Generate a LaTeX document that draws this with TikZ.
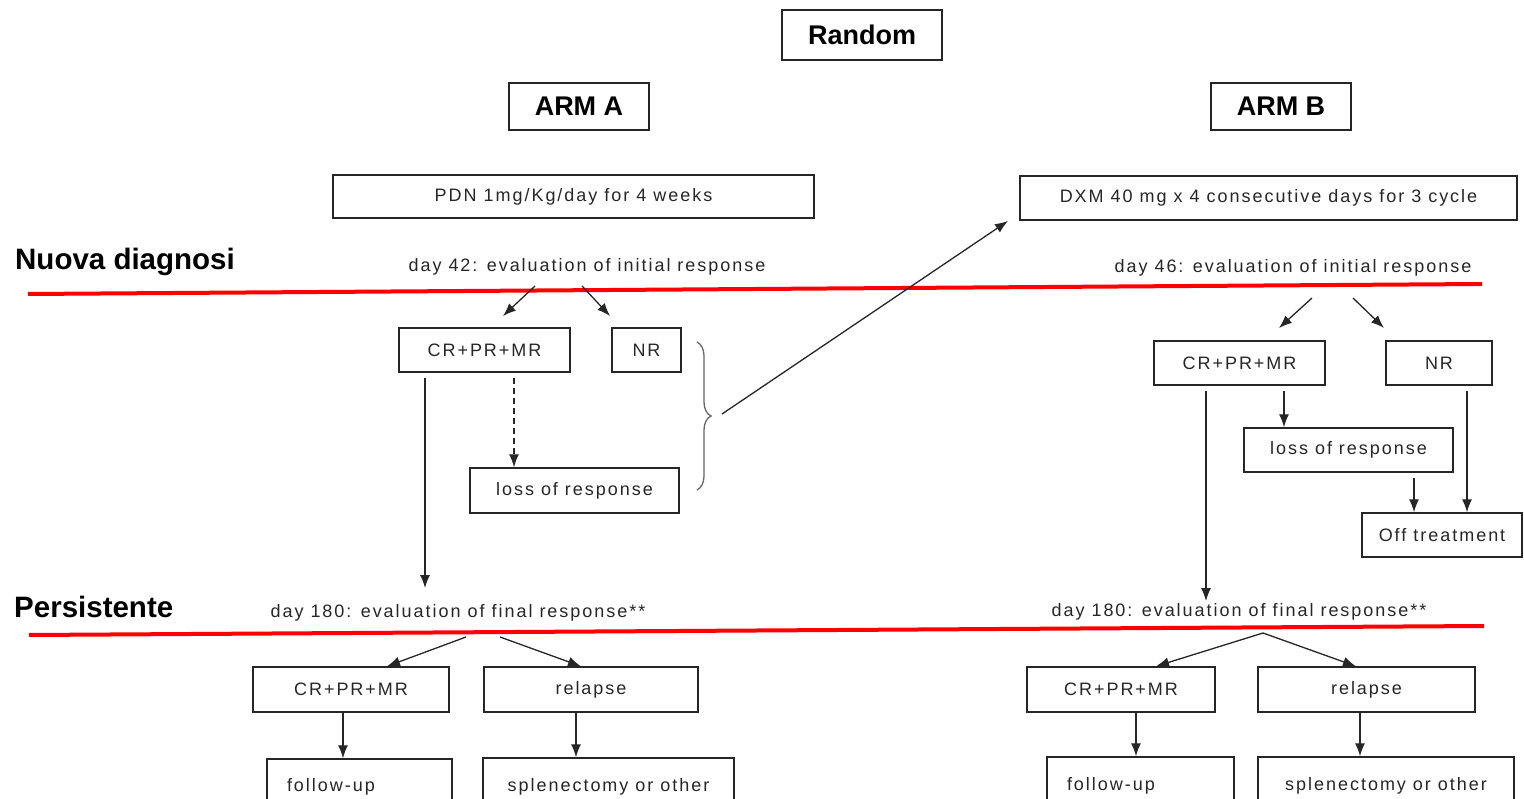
\documentclass[tikz,border=0pt]{standalone}
\usepackage{fontspec}
\setmainfont{Liberation Sans}
\newfontfamily\boxfont[LetterSpace=11]{Liberation Sans}
\usetikzlibrary{arrows.meta,decorations.pathreplacing,calc}
\begin{document}
\begin{tikzpicture}[x=1pt,y=-1pt,
 box/.style={draw=black!85, line width=1.4pt, inner sep=0pt, font=\boxfont\fontsize{18}{20}\selectfont, text=black!85},
 hbox/.style={draw=black!85, line width=1.6pt, inner sep=0pt, font=\bfseries\fontsize{27}{30}\selectfont},
 lbl/.style={inner sep=0pt, font=\boxfont\fontsize{18}{20}\selectfont, text=black!85},
 side/.style={inner sep=0pt, font=\bfseries\fontsize{29.5}{31}\selectfont, anchor=west},
 arr/.style={-{Latex[length=13pt,width=10pt]}, line width=1.3pt, draw=black!85},
 redline/.style={draw=red, line width=4pt}]
\useasboundingbox (0,0) rectangle (1524,799);
\clip (0,0) rectangle (1524,799);
% headers
\node[hbox, minimum width=160pt, minimum height=50pt] (random) at (862,35) {Random};
\node[hbox, minimum width=140pt, minimum height=47pt] (arma) at (579,106.5) {ARM A};
\node[hbox, minimum width=140pt, minimum height=47pt] (armb) at (1281,106.5) {ARM B};
% treatments
\node[box, minimum width=481pt, minimum height=43pt] (pdn) at (573.5,196.5) {PDN 1mg/Kg/day for 4 weeks};
\node[box, minimum width=497pt, minimum height=44pt] (dxm) at (1268.5,198) {DXM 40 mg x 4 consecutive days for 3 cycle};
% side labels
\node[side] (nuova) at (15,262) {Nuova diagnosi};
\node[side] (pers) at (14,607) {Persistente};
% evaluation texts
\node[lbl] (d42) at (587,267) {day 42: evaluation of initial response};
\node[lbl] (d46) at (1293,268) {day 46: evaluation of initial response};
\node[lbl] (f180a) at (458,613) {day 180: evaluation of final response**};
\node[lbl] (f180b) at (1239,612) {day 180: evaluation of final response**};
% red lines
\draw[redline] (28,294) -- (1482,284);
\draw[redline] (29,635) -- (1484,626);
% ARM A initial
\node[box, minimum width=171pt, minimum height=44pt] (cra) at (484.5,350) {CR+PR+MR};
\node[box, minimum width=69pt, minimum height=44pt] (nra) at (646.5,350) {NR};
\node[box, minimum width=209pt, minimum height=45pt] (lossa) at (574.5,490.5) {loss of response};
\coordinate (a1s) at (535,286);
\coordinate (a2s) at (582,286);
\draw[arr] (a1s) -- (503,316);
\draw[arr] (a2s) -- (610,316);
\coordinate (dsh) at (514,378);
\draw[arr, dash pattern=on 6pt off 4pt] (dsh) -- (lossa.north -| dsh);
\coordinate (bra1) at (697,342);
\coordinate (bra2) at (697,490);
\draw[black!60, line width=1.3pt, decorate, decoration={brace, amplitude=14pt}] (bra1) -- (bra2);
\coordinate (bratip) at (722,414);
\coordinate (dxmend) at (1008,221);
\draw[arr] (bratip) -- (dxmend);
\coordinate (cra1) at (425,378);
\draw[arr] (cra1) -- (425,588);
% ARM B initial
\node[box, minimum width=171pt, minimum height=44pt] (crb) at (1239.5,363) {CR+PR+MR};
\node[box, minimum width=106pt, minimum height=44pt] (nrb) at (1439,363) {NR};
\node[box, minimum width=209pt, minimum height=44pt] (lossb) at (1348.5,450) {loss of response};
\node[box, minimum width=160pt, minimum height=44pt] (off) at (1442,535) {Off treatment};
\draw[arr] (1312,298) -- (1279,328);
\draw[arr] (1353,298) -- (1384,328);
\draw[arr] (1284,391) -- (lossb.north -| 1284,0);
\draw[arr] (1414,478) -- (off.north -| 1414,0);
\draw[arr] (1467,391) -- (off.north -| 1467,0);
\draw[arr] (1206,391) -- (1206,601);
% ARM A final
\node[box, minimum width=196pt, minimum height=45pt] (cra2) at (351,689.5) {CR+PR+MR};
\node[box, minimum width=214pt, minimum height=45pt] (rela) at (591,689.5) {relapse};
\node[box, minimum width=185pt, minimum height=56pt, text width=145pt, align=left, inner xsep=20pt] (fua) at (359.5,787) {follow-up};
\node[box, minimum width=251pt, minimum height=58pt] (spla) at (608.5,787) {splenectomy or other};
\draw[arr] (466,637) -- (cra2.north -| 387,0);
\draw[arr] (500,637) -- (rela.north -| 581,0);
\draw[arr] (cra2.south -| 343,0) -- (fua.north -| 343,0);
\draw[arr] (rela.south -| 576,0) -- (spla.north -| 576,0);
% ARM B final
\node[box, minimum width=188pt, minimum height=45pt] (crb2) at (1121,689.5) {CR+PR+MR};
\node[box, minimum width=217pt, minimum height=45pt] (relb) at (1366.5,689.5) {relapse};
\node[box, minimum width=187pt, minimum height=58pt, text width=147pt, align=left, inner xsep=20pt] (fub) at (1140.5,786) {follow-up};
\node[box, minimum width=256pt, minimum height=58pt] (splb) at (1386,786) {splenectomy or other};
\draw[arr] (1263,633) -- (crb2.north -| 1156,0);
\draw[arr] (1263,633) -- (relb.north -| 1356,0);
\draw[arr] (crb2.south -| 1136,0) -- (fub.north -| 1136,0);
\draw[arr] (relb.south -| 1360,0) -- (splb.north -| 1360,0);
\end{tikzpicture}
\end{document}
